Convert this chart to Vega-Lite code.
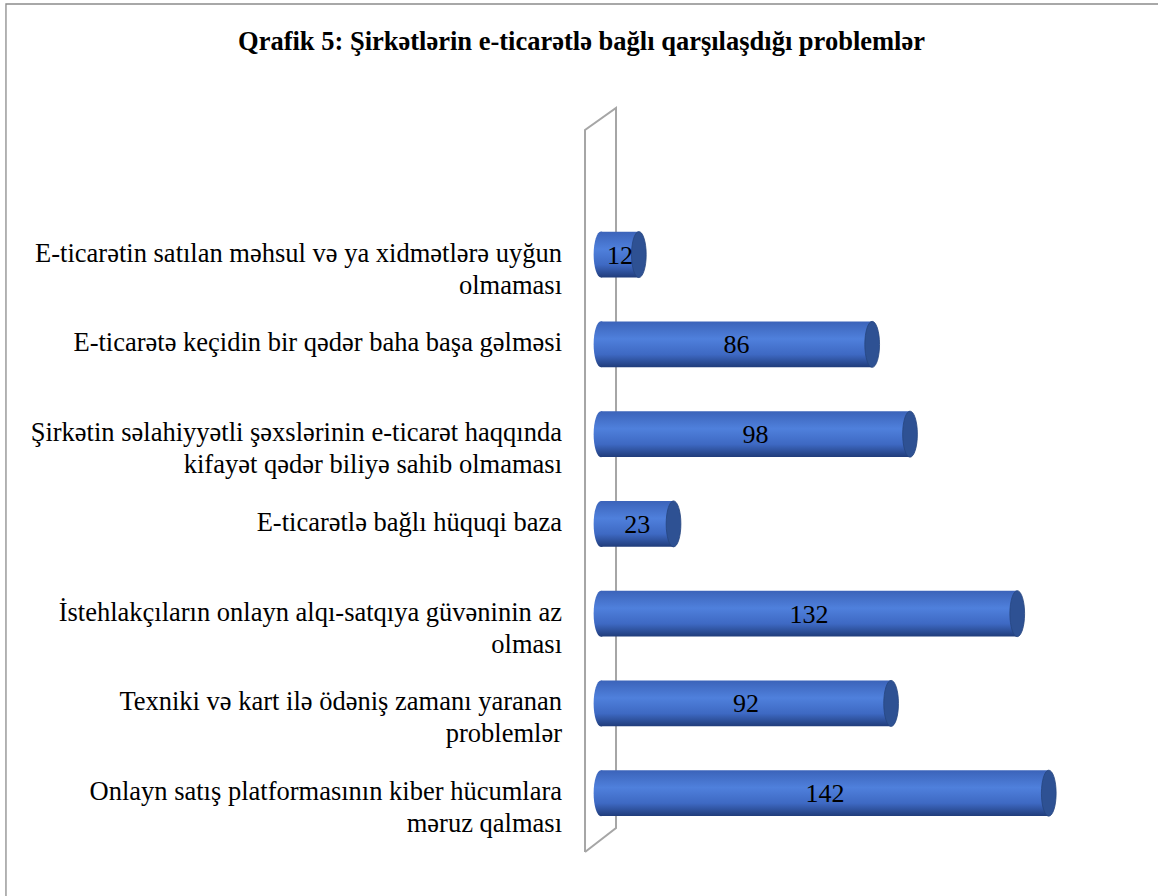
{
  "$schema": "https://vega.github.io/schema/vega-lite/v6.json",
  "width": 473,
  "height": 744,
  "autosize": "none",
  "padding": {"left": 601, "top": 108, "right": 84, "bottom": 44},
  "background": "white",
  "title": {
    "text": "Qrafik 5: Şirkətlərin e-ticarətlə bağlı qarşılaşdığı problemlər",
    "font": "Times New Roman, Liberation Serif, DejaVu Serif, serif",
    "fontSize": 26.5,
    "fontWeight": "bold",
    "color": "#000000",
    "anchor": "middle",
    "frame": "group",
    "baseline": "alphabetic",
    "offset": -73,
    "dx": -256
  },
  "datasets": {
    "problems": [
      {"problem": "E-ticarətin satılan məhsul və ya xidmətlərə uyğun olmaması", "label": "E-ticarətin satılan məhsul və ya xidmətlərə uyğun\nolmaması", "count": 12},
      {"problem": "E-ticarətə keçidin bir qədər baha başa gəlməsi", "label": "E-ticarətə keçidin bir qədər baha başa gəlməsi", "count": 86},
      {"problem": "Şirkətin səlahiyyətli şəxslərinin e-ticarət haqqında kifayət qədər biliyə sahib olmaması", "label": "Şirkətin səlahiyyətli şəxslərinin e-ticarət haqqında\nkifayət qədər biliyə sahib olmaması", "count": 98},
      {"problem": "E-ticarətlə bağlı hüquqi baza", "label": "E-ticarətlə bağlı hüquqi baza", "count": 23},
      {"problem": "İstehlakçıların onlayn alqı-satqıya güvəninin az olması", "label": "İstehlakçıların onlayn alqı-satqıya güvəninin az\nolması", "count": 132},
      {"problem": "Texniki və kart ilə ödəniş zamanı yaranan problemlər", "label": "Texniki və kart ilə ödəniş zamanı yaranan\nproblemlər", "count": 92},
      {"problem": "Onlayn satış platformasının kiber hücumlara məruz qalması", "label": "Onlayn satış platformasının kiber hücumlara\nməruz qalması", "count": 142}
    ],
    "wall": [
      {"i": 0, "x": -5.07, "y": 0},
      {"i": 1, "x": 4.76, "y": 3.23},
      {"i": 2, "x": 4.76, "y": 100},
      {"i": 3, "x": -5.07, "y": 97.04},
      {"i": 4, "x": -5.07, "y": 0}
    ],
    "frame": [
      {"x1": -188.7, "x2": 200, "y1": 113.98, "y2": -10}
    ]
  },
  "layer": [
    {
      "data": {"name": "frame"},
      "mark": {"type": "rect", "fill": null, "stroke": "#8c8c8c", "strokeWidth": 1.3},
      "encoding": {
        "x": {"field": "x1", "type": "quantitative", "scale": {"domain": [0, 150], "nice": false, "zero": false}, "axis": null},
        "x2": {"field": "x2"},
        "y": {"field": "y1", "type": "quantitative", "scale": {"domain": [0, 100], "nice": false, "zero": false}, "axis": null},
        "y2": {"field": "y2"}
      }
    },
    {
      "data": {"name": "wall"},
      "mark": {"type": "line", "stroke": "#a6a6a6", "strokeWidth": 2, "strokeJoin": "miter"},
      "encoding": {
        "x": {"field": "x", "type": "quantitative", "scale": {"domain": [0, 150], "nice": false, "zero": false}, "axis": null},
        "y": {"field": "y", "type": "quantitative", "scale": {"domain": [0, 100], "nice": false, "zero": false}, "axis": null},
        "order": {"field": "i", "type": "quantitative"}
      }
    },
    {
      "data": {"name": "problems"},
      "encoding": {
        "y": {
          "field": "problem",
          "type": "nominal",
          "sort": null,
          "scale": {"type": "band", "paddingInner": 0.489, "paddingOuter": 0.889, "align": 0.775},
          "axis": null
        }
      },
      "layer": [
        {
          "mark": {
            "type": "point",
            "shape": "M0,-1 A0.32,1 0 1,1 0,1 A0.32,1 0 1,1 0,-1 Z",
            "size": 2116,
            "filled": true,
            "opacity": 1,
            "strokeWidth": 0,
            "fill": {"gradient": "linear", "x1": 0, "y1": 0, "x2": 0, "y2": 1, "stops": [
              {"offset": 0, "color": "#3b63b9"},
              {"offset": 0.38, "color": "#4f80dc"},
              {"offset": 0.72, "color": "#3e69c3"},
              {"offset": 1, "color": "#203c7a"}
            ]}
          },
          "encoding": {
            "x": {"datum": 0, "type": "quantitative", "scale": {"domain": [0, 150], "nice": false}, "axis": null}
          }
        },
        {
          "mark": {
            "type": "bar",
            "fill": {"gradient": "linear", "x1": 0, "y1": 0, "x2": 0, "y2": 1, "stops": [
              {"offset": 0, "color": "#3b63b9"},
              {"offset": 0.38, "color": "#4f80dc"},
              {"offset": 0.72, "color": "#3e69c3"},
              {"offset": 1, "color": "#203c7a"}
            ]}
          },
          "encoding": {
            "x": {"field": "count", "type": "quantitative", "scale": {"domain": [0, 150], "nice": false}, "axis": null}
          }
        },
        {
          "mark": {
            "type": "point",
            "shape": "M0,-1 A0.32,1 0 1,1 0,1 A0.32,1 0 1,1 0,-1 Z",
            "size": 2116,
            "filled": true,
            "opacity": 1,
            "fill": "#2e5193",
            "stroke": "#26457f",
            "strokeWidth": 0.8
          },
          "encoding": {
            "x": {"field": "count", "type": "quantitative", "scale": {"domain": [0, 150], "nice": false}, "axis": null}
          }
        },
        {
          "mark": {"type": "text", "font": "Times New Roman, Liberation Serif, DejaVu Serif, serif", "fontSize": 26, "color": "#000000", "align": "center", "baseline": "middle", "dy": 1},
          "encoding": {
            "x": {"field": "count", "type": "quantitative", "scale": {"domain": [0, 300], "nice": false}, "axis": null},
            "text": {"field": "count", "type": "quantitative"}
          }
        },
        {
          "mark": {"type": "text", "font": "Times New Roman, Liberation Serif, DejaVu Serif, serif", "fontSize": 26.5, "color": "#000000", "align": "right", "baseline": "alphabetic", "dx": -39, "dy": 7, "lineBreak": "\n", "lineHeight": 32},
          "encoding": {
            "x": {"datum": 0, "type": "quantitative", "scale": {"domain": [0, 150], "nice": false}, "axis": null},
            "text": {"field": "label", "type": "nominal"}
          }
        }
      ],
      "resolve": {"scale": {"x": "independent"}}
    }
  ],
  "resolve": {"scale": {"x": "independent", "y": "independent"}},
  "config": {"view": {"stroke": null}, "font": "Times New Roman, Liberation Serif, DejaVu Serif, serif"}
}
